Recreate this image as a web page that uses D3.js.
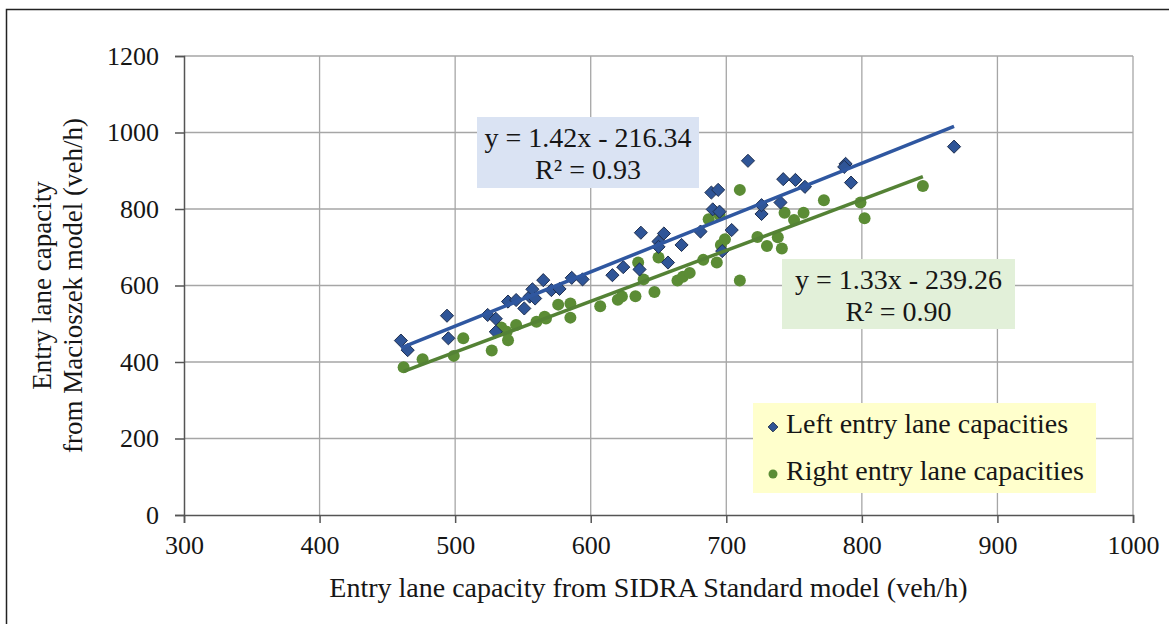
<!DOCTYPE html>
<meta charset="UTF-8">
<style>
body { margin: 0; background: #fff; }
svg text { font-family: "Liberation Serif", "Times New Roman", serif; fill: #161616; }
</style>
<body>
<script src="https://cdn.jsdelivr.net/npm/d3@7"></script>
<script>

// left entry lane capacities [SIDRA, Macioszek]
var leftLane = [
  [460,456],[465,431],[494,521],[495,462],[524,523],[530,513],[530,479],[539,558],
  [545,562],[551,540],[555,571],[557,590],[559,566],[565,614],[571,588],[577,591],
  [586,620],[594,616],[616,627],[624,648],[636,642],[637,738],[650,715],[654,736],
  [650,701],[657,660],[667,706],[681,741],[689,843],[694,850],[690,799],[695,793],
  [697,690],[704,745],[716,926],[726,787],[726,810],[740,817],[742,878],[751,876],
  [758,858],[788,918],[787,910],[792,869],[868,963]
];

// right entry lane capacities [SIDRA, Macioszek]
var rightLane = [
  [462,386],[476,407],[499,416],[506,462],[527,430],[534,490],[538,479],[539,457],
  [545,497],[560,505],[566,518],[567,514],[576,550],[585,553],[585,516],[607,546],
  [620,563],[623,571],[633,572],[635,660],[639,616],[647,583],[650,673],[664,613],
  [668,623],[673,633],[683,667],[687,773],[693,660],[695,784],[696,706],[699,721],
  [710,850],[710,613],[723,727],[730,703],[738,726],[741,697],[743,790],[750,771],
  [757,790],[772,823],[799,817],[802,776],[845,860]
];

// trend lines: slope, intercept, x range
var leftFit = {a: 1.42, b: -216.34, r2: "0.93", x0: 460, x1: 868};
var rightFit = {a: 1.33, b: -239.26, r2: "0.90", x0: 462, x1: 845};

var xTicks = [300, 400, 500, 600, 700, 800, 900, 1000];
var yTicks = [0, 200, 400, 600, 800, 1000, 1200];

var W = 1169, H = 624;
var margin = {top: 56, right: 36, bottom: 109, left: 184};
var serif = "'Liberation Serif', 'Times New Roman', serif";

var svg = d3.select("body").append("svg")
    .attr("width", W)
    .attr("height", H);

// outer frame
svg.append("rect")
    .attr("x", 6.5).attr("y", 9.5)
    .attr("width", W + 10).attr("height", H + 10)
    .attr("fill", "none").attr("stroke", "#222").attr("stroke-width", 1.5);

var x = d3.scaleLinear().domain([300, 1000]).range([margin.left, W - margin.right]);
var y = d3.scaleLinear().domain([0, 1200]).range([H - margin.bottom, margin.top]);

// grid
svg.append("g").selectAll("line")
    .data(xTicks.slice(1))
  .enter().append("line")
    .attr("x1", d => x(d)).attr("x2", d => x(d))
    .attr("y1", y(0)).attr("y2", y(1200))
    .attr("stroke", "#a6a6a6").attr("stroke-width", 1.3);

svg.append("g").selectAll("line")
    .data(yTicks.slice(1))
  .enter().append("line")
    .attr("x1", x(300)).attr("x2", x(1000))
    .attr("y1", d => y(d)).attr("y2", d => y(d))
    .attr("stroke", "#a6a6a6").attr("stroke-width", 1.3);

// axes
var xAxis = svg.append("g")
    .attr("transform", "translate(0," + y(0) + ")")
    .call(d3.axisBottom(x).tickValues(xTicks).tickFormat(d3.format("d"))
      .tickSize(8).tickPadding(13));

var yAxis = svg.append("g")
    .attr("transform", "translate(" + x(300) + ",0)")
    .call(d3.axisLeft(y).tickValues(yTicks).tickFormat(d3.format("d"))
      .tickSize(9).tickPadding(16));

[xAxis, yAxis].forEach(function(g) {
  g.attr("font-family", null);
  g.select(".domain").attr("stroke", "#555").attr("stroke-width", 1.5);
  g.selectAll(".tick line").attr("stroke", "#555").attr("stroke-width", 1.5);
  g.selectAll(".tick text")
    .style("font-family", serif)
    .style("font-size", "26px").attr("fill", "#161616");
});

// trend lines
function fitLine(f) {
  return [[f.x0, f.a * f.x0 + f.b], [f.x1, f.a * f.x1 + f.b]];
}
var line = d3.line().x(d => x(d[0])).y(d => y(d[1]));

// points
svg.append("g").selectAll("circle")
    .data(rightLane)
  .enter().append("circle")
    .attr("cx", d => x(d[0])).attr("cy", d => y(d[1]))
    .attr("r", 6)
    .attr("fill", "#5b8c35");

var diamond = d3.symbol().type(d3.symbolDiamond2).size(110);
svg.append("g").selectAll("path")
    .data(leftLane)
  .enter().append("path")
    .attr("d", diamond)
    .attr("transform", d => "translate(" + x(d[0]) + "," + y(d[1]) + ")")
    .attr("fill", "#2f5597")
    .attr("stroke", "#1f2f4f").attr("stroke-width", 1);

svg.append("path")
    .datum(fitLine(rightFit))
    .attr("d", line)
    .attr("stroke", "#548235").attr("stroke-width", 3.5).attr("fill", "none");

svg.append("path")
    .datum(fitLine(leftFit))
    .attr("d", line)
    .attr("stroke", "#2f57a0").attr("stroke-width", 3.5).attr("fill", "none");

// equation labels
function eqLabel(f, bx, by, bw, bh, fill) {
  var g = svg.append("g");
  g.append("rect").attr("x", bx).attr("y", by).attr("width", bw).attr("height", bh)
    .attr("fill", fill);
  var sign = f.b < 0 ? " - " : " + ";
  g.append("text").attr("x", bx + bw / 2).attr("y", by + 30)
    .attr("text-anchor", "middle").style("font-size", "28px")
    .text("y = " + f.a.toFixed(2) + "x" + sign + Math.abs(f.b).toFixed(2));
  g.append("text").attr("x", bx + bw / 2).attr("y", by + 62)
    .attr("text-anchor", "middle").style("font-size", "28px")
    .text("R² = " + f.r2);
}
eqLabel(leftFit, 477, 117, 222, 71, "#dae3f3");
eqLabel(rightFit, 782, 259, 233, 70, "#e2f0d9");

// legend
var lg = svg.append("g");
lg.append("rect").attr("x", 753).attr("y", 403).attr("width", 343).attr("height", 90)
  .attr("fill", "#ffffcc");
lg.append("path")
  .attr("d", d3.symbol().type(d3.symbolDiamond2).size(60))
  .attr("transform", "translate(773,427)")
  .attr("fill", "#2f5597").attr("stroke", "#1f2f4f");
lg.append("text").attr("x", 786).attr("y", 433).style("font-size", "28px")
  .text("Left entry lane capacities");
lg.append("circle").attr("cx", 773).attr("cy", 474).attr("r", 4.5).attr("fill", "#5b8c35");
lg.append("text").attr("x", 786).attr("y", 480).style("font-size", "28px")
  .text("Right entry lane capacities");

// axis titles
svg.append("text")
    .attr("x", (x(300) + x(1000)) / 2 - 10).attr("y", 597)
    .attr("text-anchor", "middle").style("font-size", "28px")
    .text("Entry lane capacity from SIDRA Standard model (veh/h)");

var yt = svg.append("text")
    .attr("transform", "translate(51," + y(600) + ") rotate(-90)")
    .attr("text-anchor", "middle").style("font-size", "27px");
yt.append("tspan").attr("x", 0).attr("dy", 0).text("Entry lane capacity");
yt.append("tspan").attr("x", 0).attr("dy", 31).text("from Macioszek model (veh/h)");

</script>
</body>
